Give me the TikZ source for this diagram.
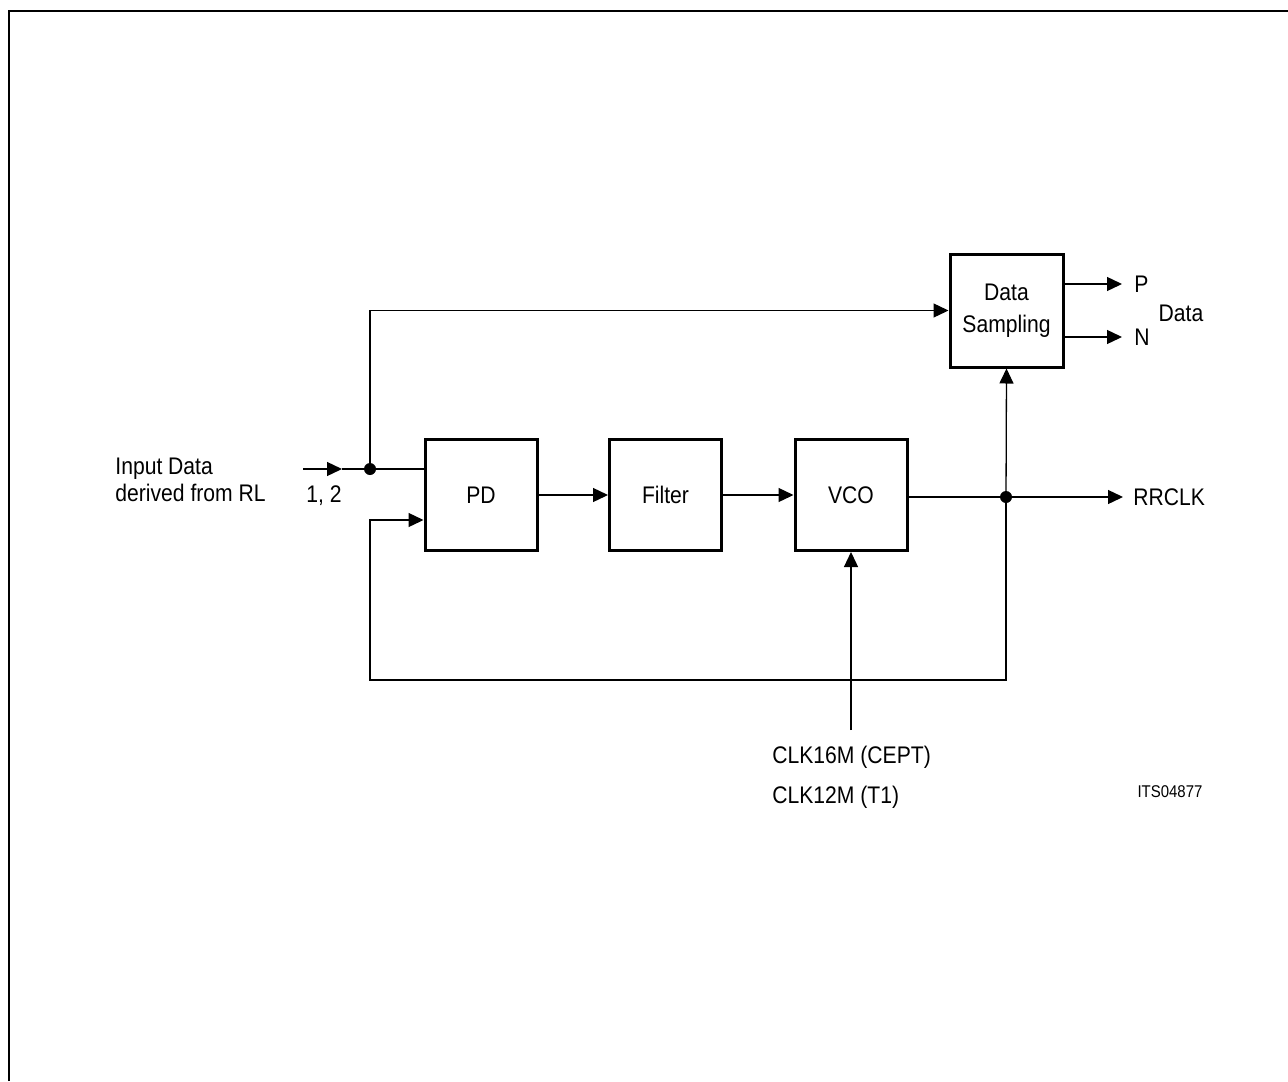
\documentclass[tikz,border=0pt]{standalone}
\usepackage{fontspec}
\setmainfont{Liberation Sans}[FakeStretch=0.88]
\usetikzlibrary{arrows.meta}
\begin{document}
\begin{tikzpicture}[x=0.5pt,y=-0.5pt,
  blk/.style={draw,line width=1.5pt,minimum width=56pt,minimum height=55.5pt,inner sep=0pt,font=\fontsize{12}{13.5}\selectfont},
  wire/.style={line width=0.65pt},
  arr/.style={wire,-{Triangle[length=7.5pt,width=7pt]}},
  lbl/.style={inner sep=0pt,font=\fontsize{12}{13.5}\selectfont},
  junc/.style={circle,fill,inner sep=0pt,minimum size=6pt}]
\useasboundingbox (0,0) rectangle (1288,1081);
% frame
\draw[line width=1pt] (9,1081) -- (9,11) -- (1288,11);
% blocks
\node[blk] (pd) at (481,495) {PD};
\node[blk] (flt) at (665.5,495) {Filter};
\node[blk] (vco) at (851,495) {VCO};
\node[blk,minimum width=56.5pt,minimum height=56.5pt,align=center,font=\fontsize{12}{16}\selectfont] (ds) at (1006.5,310.5) {Data\\Sampling};
% junctions and coordinates
\node[junc] (dot) at (370,469) {};
\node[junc] (tap) at (1006,497) {};
\coordinate (in) at (303,469);
\coordinate (inA) at (342,469);
\coordinate (fb) at (370,520);
\coordinate (fbL) at (370,680);
\coordinate (fbR) at (1006,680);
\coordinate (clk) at (851,730);
\coordinate (rr) at (1123,497);
\coordinate (pOut) at (1122,284);
\coordinate (nOut) at (1122,337);
% input
\draw[arr] (in) -- (inA);
\draw[wire] (inA) -- (dot.center);
\draw[wire] (dot.center) -- (dot -| pd.west);
\draw[arr] (dot.center) -- (dot |- ds.west) -- (ds.west);
% forward chain
\draw[arr] (pd.east) -- (flt.west);
\draw[arr] (flt.east) -- (vco.west);
\draw[wire] (vco.east |- tap) -- (tap.center);
\draw[arr] (tap.center) -- (rr);
\draw[arr] (tap.center) -- (ds.south);
% feedback
\draw[arr] (tap.center) -- (fbR) -- (fbL) -- (fb) -- (fb -| pd.west);
% clock
\draw[arr] (clk) -- (vco.south);
% outputs
\draw[arr] (pOut -| ds.east) -- (pOut);
\draw[arr] (nOut -| ds.east) -- (nOut);
% labels
\node[lbl,anchor=west,align=left] (inlbl) at (115,479.5) {Input Data\\derived from RL};
\node[lbl] (pins) at (324,496) {1, 2};
\node[lbl,anchor=west] (rrlbl) at (1133,497) {RRCLK};
\node[lbl,anchor=west] (plbl) at (1134,284) {P};
\node[lbl,anchor=west] (nlbl) at (1134,337) {N};
\node[lbl] (datalbl) at (1181,313) {Data};
\node[lbl,anchor=west,align=left,font=\fontsize{12}{20}\selectfont] (clklbl) at (772,777) {CLK16M (CEPT)\\CLK12M (T1)};
\node[lbl,font=\fontsize{8.5}{9}\selectfont] (its) at (1170,792) {ITS04877};
\end{tikzpicture}
\end{document}
